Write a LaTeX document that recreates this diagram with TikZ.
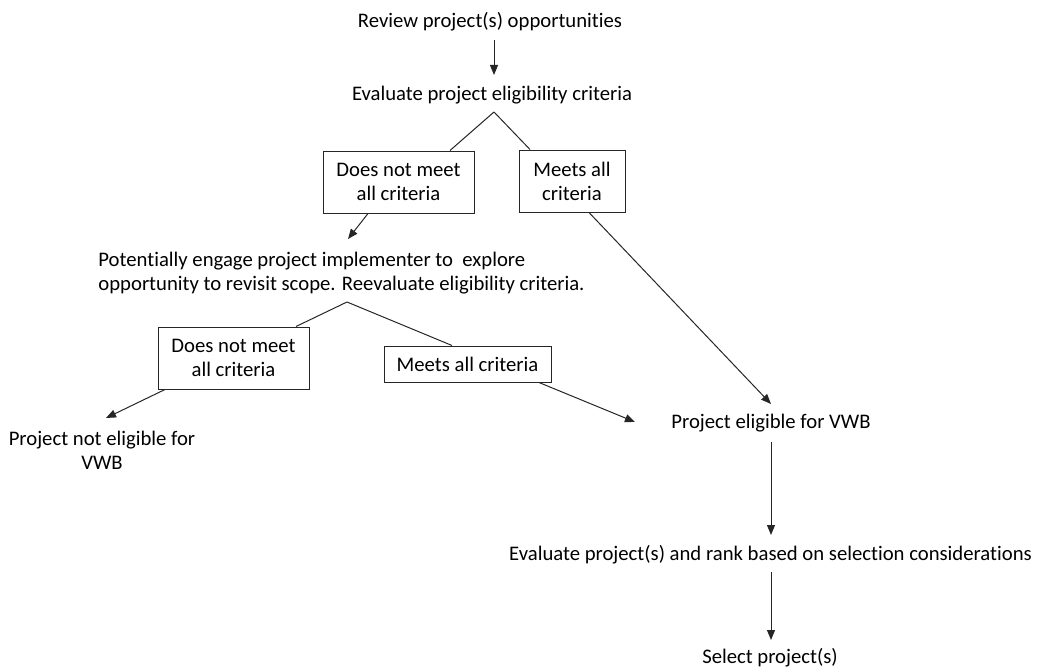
\documentclass[tikz,border=0pt]{standalone}
\usepackage{fontspec}
\setmainfont{Carlito}[RawFeature={-liga;-clig;-calt}]
\usetikzlibrary{arrows.meta,calc}
\begin{document}
\begin{tikzpicture}[x=1pt,y=-1pt,
  every node/.style={font=\fontsize{20.7}{24}\selectfont, inner sep=0pt, text=black},
  txt/.style={align=center},
  box/.style={draw=black!85, line width=1pt, align=center},
  conn/.style={draw=black!85, line width=1pt},
  arr/.style={conn, -{Triangle[length=10pt,width=8pt]}}]
\useasboundingbox (0,0) rectangle (1037,669);
\node[txt] (review) at (490,22) {Review project(s) opportunities};
\node[txt] (eval1) at (492,95) {Evaluate project eligibility criteria};
\node[box, minimum width=151pt, minimum height=62pt] (b1L) at (398.5,182) {Does not meet\\all criteria};
\node[box, minimum width=106pt, minimum height=62pt] (b1R) at (572,181) {Meets all\\criteria};
\node[align=left] (pot) at (341.5,273.5) {Potentially engage project implementer to \ explore\\opportunity to revisit scope. Reevaluate eligibility criteria.};
\node[box, minimum width=151pt, minimum height=62pt] (b2L) at (233.5,358) {Does not meet\\all criteria};
\node[box, minimum width=167pt, minimum height=36pt] (b2R) at (467.5,364) {Meets all criteria};
\node[txt] (notelig) at (102,450.5) {Project not eligible for\\VWB};
\node[txt] (elig) at (771,423) {Project eligible for VWB};
\node[txt] (rank) at (770.5,555) {Evaluate project(s) and rank based on selection considerations};
\node[txt] (select) at (770,658) {Select project(s)};
% connector end points
\coordinate (r1) at (494,40);
\coordinate (r2) at (494,75);
\coordinate (apex1) at (494,112);
\coordinate (t1) at (348,239);
\coordinate (t2) at (771,404);
\coordinate (apex2) at (347,302);
\coordinate (t3) at (106,418);
\coordinate (t4) at (635,422);
\coordinate (e1) at (771,442);
\coordinate (e2) at (771,535);
\coordinate (s1) at (771,572);
\coordinate (s2) at (771,640);
% connectors
\draw[arr] (r1) -- (r2);
\draw[conn] (apex1) -- ([xshift=51.5pt]b1L.north);
\draw[conn] (apex1) -- ([xshift=-42pt]b1R.north);
\draw[arr] ([xshift=-30.5pt]b1L.south) -- (t1);
\draw[arr] ([xshift=17pt]b1R.south) -- (t2);
\draw[conn] (apex2) -- ([xshift=62.5pt]b2L.north);
\draw[conn] (apex2) -- ([xshift=-15.5pt]b2R.north);
\draw[arr] ([xshift=-68.5pt]b2L.south) -- (t3);
\draw[arr] ([xshift=71.5pt]b2R.south) -- (t4);
\draw[arr] (e1) -- (e2);
\draw[arr] (s1) -- (s2);
\end{tikzpicture}
\end{document}
